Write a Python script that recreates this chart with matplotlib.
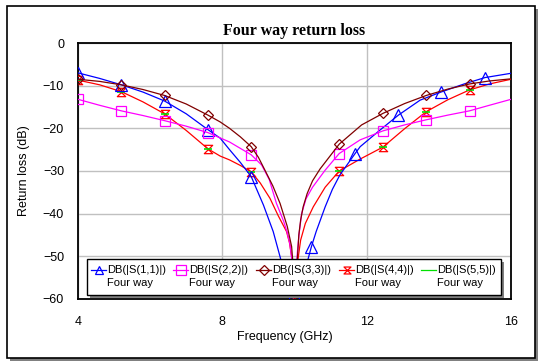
import numpy as np
import matplotlib
matplotlib.use("Agg")
import matplotlib.pyplot as plt
from matplotlib.path import Path
from matplotlib.patches import Rectangle
from matplotlib.lines import Line2D
from matplotlib.transforms import Affine2D

# S11
s11_f = [4.0, 4.6, 5.2, 5.8, 6.4, 7.0, 7.6, 7.94, 8.2, 8.5, 8.8, 9.14, 9.41, 9.6, 9.8, 10.0,
         10.2, 10.38, 10.47, 10.6, 10.85, 11.05, 11.26, 11.68, 11.82, 12.37, 12.88, 13.48, 14.06, 14.7, 15.28, 16.0]
s11_db = [-7.0, -8.3, -9.8, -11.5, -13.6, -16.6, -20.3, -22.3, -25.0, -28.0, -31.3, -38.0, -44.2, -50.1, -57.0, -66.0,
          -57.0, -50.5, -47.7, -44.2, -38.4, -34.3, -30.9, -25.9, -24.3, -20.4, -16.9, -13.4, -11.5, -9.6, -8.1, -7.1]
s11_mk = [4.0, 5.2, 6.4, 7.6, 8.8, 10.47, 11.68, 12.88, 14.06, 15.28]

# S22
s22_f = [4.0, 4.6, 5.2, 5.8, 6.4, 7.0, 7.6, 8.2, 8.8, 9.09, 9.3, 9.5, 9.7, 9.8, 9.87, 9.93, 10.0,
         10.04, 10.08, 10.13, 10.2, 10.32, 10.5, 10.85, 11.24, 11.82, 12.45, 13.05, 13.65, 14.25, 14.85, 15.4, 16.0]
s22_db = [-13.2, -14.6, -15.9, -17.0, -18.2, -19.5, -21.0, -23.2, -26.2, -28.6, -32.0, -37.6, -41.8, -44.5, -47.0, -51.0, -66.0,
          -54.0, -49.0, -44.5, -39.9, -36.5, -33.8, -29.8, -25.9, -22.7, -20.6, -19.2, -18.0, -16.9, -15.9, -14.6, -13.2]
s22_mk = [4.0, 5.2, 6.4, 7.6, 8.8, 11.24, 12.45, 13.65, 14.85]

# S33
s33_f = [4.0, 4.6, 5.2, 5.8, 6.4, 7.0, 7.6, 7.94, 8.2, 8.5, 8.8, 9.0, 9.18, 9.4, 9.6, 9.8, 9.92, 9.97, 10.0,
         10.04, 10.08, 10.12, 10.17, 10.24, 10.35, 10.5, 10.71, 11.24, 11.86, 12.45, 13.05, 13.65, 14.25, 14.85, 15.4, 16.0]
s33_db = [-8.5, -9.0, -9.8, -10.9, -12.3, -14.3, -16.9, -18.5, -20.0, -22.0, -24.3, -26.8, -29.8, -33.5, -37.6, -43.0, -47.7, -53.0, -66.0,
          -55.0, -50.5, -45.0, -41.5, -38.4, -35.3, -32.3, -29.5, -23.7, -19.2, -16.5, -14.2, -12.3, -10.8, -9.6, -8.9, -8.4]
s33_mk = [4.0, 5.2, 6.4, 7.6, 8.8, 11.24, 12.45, 13.65, 14.85]

# S44 (S55 lies underneath)
s44_f = [4.0, 4.6, 5.2, 5.8, 6.4, 7.0, 7.6, 7.94, 8.2, 8.5, 8.8, 9.05, 9.32, 9.55, 9.78, 9.86, 9.92, 9.97, 10.0,
         10.05, 10.1, 10.17, 10.3, 10.52, 10.85, 11.24, 11.82, 12.45, 13.05, 13.65, 14.25, 14.85, 15.4, 16.0]
s44_db = [-8.7, -9.8, -11.4, -13.8, -16.6, -20.5, -24.8, -26.5, -27.4, -28.7, -30.2, -32.8, -36.4, -40.5, -44.2, -46.8, -50.0, -55.0, -66.0,
          -55.0, -50.5, -46.2, -42.3, -38.4, -33.8, -30.0, -27.2, -24.4, -20.1, -16.1, -13.3, -11.0, -9.6, -8.5]
s44_mk = [4.0, 5.2, 6.4, 7.6, 8.8, 11.24, 12.45, 13.65, 14.85]

s55_f = s44_f
s55_db = s44_db

labels = ["DB(|S(1,1)|)", "DB(|S(2,2)|)", "DB(|S(3,3)|)", "DB(|S(4,4)|)", "DB(|S(5,5)|)"]
sub_label = "Four way"

W, H = 539, 362
plt.rcParams['font.family'] = ['Liberation Sans', 'DejaVu Sans']

fig = plt.figure(figsize=(W / 100, H / 100), dpi=100)
ax = fig.add_axes([78 / W, 1 - 299 / H, 433 / W, 256 / H])

hourglass = Path([(-1, 1), (1, 1), (-1, -1), (1, -1), (-1, 1)],
                 [Path.MOVETO, Path.LINETO, Path.LINETO, Path.LINETO, Path.CLOSEPOLY])


def idx(f, marks):
    f = np.asarray(f)
    return [int(np.argmin(np.abs(f - m))) for m in marks]


series = [
    (s11_f, s11_db, s11_mk, "#0000ff", "^", 8),
    (s22_f, s22_db, s22_mk, "#ff00ff", "s", 7),
    (s33_f, s33_db, s33_mk, "#800000", "D", 5),
]

# S(5,5) sits exactly under S(4,4): only its green ticks show
ax.plot(s44_f, s44_db, color="#ff0000", lw=0.9, marker=hourglass, ms=6,
        mfc="none", mec="#ff0000", mew=0.9, markevery=idx(s44_f, s44_mk), zorder=3)
ax.plot(s55_f, s55_db, ls="none", marker="_", ms=6, mec="#00e000", mew=1.2,
        markevery=idx(s55_f, s44_mk), zorder=3.5)
for f, db, mk, c, m, ms in series:
    ax.plot(f, db, color=c, lw=0.9, marker=m, ms=ms, mfc="none", mec=c, mew=0.9,
            markevery=idx(f, mk), zorder=4)

ax.set_xlim(4, 16)
ax.set_ylim(-60, 0)
ax.set_xticks([4, 8, 12, 16])
ax.set_yticks([0, -10, -20, -30, -40, -50, -60])
ax.grid(True, color="#c0c0c0", lw=1)
ax.set_axisbelow(True)
ax.tick_params(length=0, labelsize=9)
ax.tick_params(axis="x", pad=12)
ax.tick_params(axis="y", pad=10)
for s in ax.spines.values():
    s.set_linewidth(1.3)
    s.set_color("black")

ax.set_xlabel("Frequency (GHz)", fontsize=9)
ax.xaxis.set_label_coords((285 - 78) / 433, (299 - 331) / 256)
ax.set_ylabel("Return loss (dB)", fontsize=9)
ax.yaxis.set_label_coords((30 - 78) / 433, 0.5)
ax.set_title("Four way return loss", family="Liberation Serif", weight="bold", fontsize=11.5, pad=6)

# pixel transform, y downwards
pix = Affine2D().scale(1 / W, -1 / H).translate(0, 1) + fig.transFigure

# outer frame with shadow
fig.add_artist(Rectangle((10, 9), 528, 352, transform=pix, fc="#808080", ec="none", zorder=-10))
fig.add_artist(Rectangle((7, 6), 528, 352, transform=pix, fc="white", ec="black", lw=1.2, zorder=-9))
fig.patch.set_facecolor("white")

# legend box with shadow
fig.add_artist(Rectangle((90, 262), 414, 36, transform=pix, fc="#808080", ec="none", zorder=10))
fig.add_artist(Rectangle((87, 259), 414, 36, transform=pix, fc="white", ec="black", lw=1.0, zorder=11))

leg_style = [
    ("#0000ff", "^", 6),
    ("#ff00ff", "s", 7),
    ("#800000", "D", 5),
    ("#ff0000", hourglass, 5),
    ("#00e000", None, 0),
]
x0s = [91, 173, 256, 339, 421]
for x0, (c, m, ms), lab in zip(x0s, leg_style, labels):
    fig.add_artist(Line2D([x0, x0 + 15], [270, 270], transform=pix, color=c, lw=0.9, zorder=12))
    if m is not None:
        fig.add_artist(Line2D([x0 + 7.5], [270], transform=pix, color=c, marker=m, ms=ms,
                              mfc="none", mec=c, mew=0.9, zorder=12))
    fig.text((x0 + 16) / W, 1 - 270 / H, lab, fontsize=8, va="center", ha="left", zorder=12)
    fig.text((x0 + 16) / W, 1 - 283 / H, sub_label, fontsize=8, va="center", ha="left", zorder=12)

fig.savefig("out.png", dpi=100)
